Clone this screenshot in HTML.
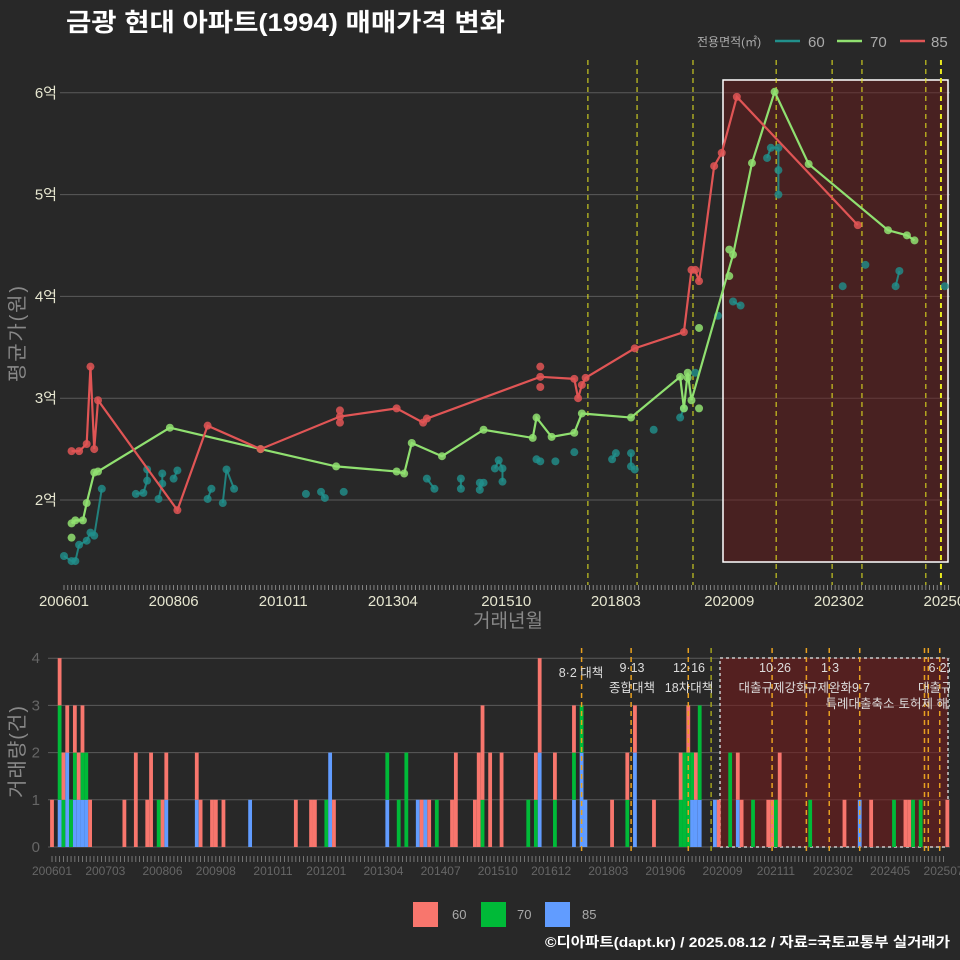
<!DOCTYPE html>
<html><head><meta charset="utf-8">
<style>
html,body{margin:0;padding:0;background:#282828;}
svg{display:block;font-family:"Liberation Sans","Noto Sans CJK KR",sans-serif;}
</style></head>
<body>
<svg id="chart" width="960" height="960" viewBox="0 0 960 960">
<rect x="0" y="0" width="960" height="960" fill="#282828"/>
<defs>
<clipPath id="topclip"><rect x="60" y="60" width="890" height="525"/></clipPath>
<clipPath id="botclip"><rect x="48" y="645" width="902" height="210"/></clipPath>
</defs>
<text x="66" y="31" fill="#ffffff" font-size="25" font-weight="bold" textLength="439" lengthAdjust="spacingAndGlyphs">금광 현대 아파트(1994) 매매가격 변화</text>
<g>
<text x="697" y="46" fill="#aaaaaa" font-size="12">전용면적(㎡)</text>
<line x1="775" y1="41" x2="800" y2="41" stroke="#21908c" stroke-width="2.5"/>
<text x="808" y="47" fill="#aaaaaa" font-size="15">60</text>
<line x1="837" y1="41" x2="862" y2="41" stroke="#90e070" stroke-width="2.5"/>
<text x="870" y="47" fill="#aaaaaa" font-size="15">70</text>
<line x1="900" y1="41" x2="925" y2="41" stroke="#e05555" stroke-width="2.5"/>
<text x="931" y="47" fill="#aaaaaa" font-size="15">85</text>
</g>
<g id="topPanel"></g>
<g id="botPanel"></g>
<text transform="translate(24,334) rotate(-90)" text-anchor="middle" fill="#888888" font-size="20" textLength="96">평균가(원)</text>
<text x="508" y="627" text-anchor="middle" fill="#888888" font-size="19">거래년월</text>
<text transform="translate(24,752) rotate(-90)" text-anchor="middle" fill="#888888" font-size="20" textLength="92">거래량(건)</text>
<g>
<rect x="413" y="902" width="25" height="25" fill="#f8766d"/>
<text x="452" y="919" fill="#aaaaaa" font-size="13">60</text>
<rect x="481" y="902" width="25" height="25" fill="#00ba38"/>
<text x="517" y="919" fill="#aaaaaa" font-size="13">70</text>
<rect x="545" y="902" width="25" height="25" fill="#619cff"/>
<text x="582" y="919" fill="#aaaaaa" font-size="13">85</text>
</g>
<text x="950" y="947" text-anchor="end" fill="#ffffff" font-size="14" font-weight="bold" textLength="405" lengthAdjust="spacingAndGlyphs">©디아파트(dapt.kr) / 2025.08.12 / 자료=국토교통부 실거래가</text>
</svg>
<script>
// ---- data ----
const topTickMonths = [0,29,58,87,117,146,176,205,234];
const topTickLabels = ["200601","200806","201011","201304","201510","201803","202009","202302","202507"];
const botTickMonths = [0,14,29,43,58,72,87,102,117,131,146,161,176,190,205,220,234];
const botTickLabels = ["200601","200703","200806","200908","201011","201201","201304","201407","201510","201612","201803","201906","202009","202111","202302","202405","202507"];
const priceTicks = [2,3,4,5,6];
const priceTickLabels = ["2억","3억","4억","5억","6억"];
const volTicks = [0,1,2,3,4];
const line85 = [[2,2.48],[4,2.48],[6,2.55],[7,3.31],[8,2.50],[9,2.98],[30,1.90],[38,2.73],[52,2.50],[73,2.82],[88,2.90],[95,2.76],[96,2.80],[126,3.21],[135,3.19],[136,3.00],[137,3.13],[138,3.20],[151,3.49],[164,3.65],[166,4.26],[167,4.26],[168,4.15],[172,5.28],[174,5.41],[178,5.96],[210,4.70]];
const extra85 = [[73,2.88],[73,2.76],[126,3.31],[126,3.11]];
const line70 = [[2,1.77],[3,1.80],[5,1.80],[6,1.97],[8,2.27],[9,2.28],[28,2.71],[52,2.50],[72,2.33],[88,2.28],[90,2.26],[92,2.56],[100,2.43],[111,2.69],[124,2.61],[125,2.81],[129,2.62],[135,2.66],[137,2.85],[150,2.81],[163,3.21],[164,2.90],[165,3.25],[166,2.98],[177,4.41],[182,5.31],[188,6.01],[197,5.30],[218,4.65],[223,4.60],[225,4.55]];
const extra70 = [[2,1.63],[168,3.69],[168,2.90],[176,4.46],[176,4.20],[165,3.20]];
const pts60 = [[0,1.45],[2,1.40],[3,1.40],[4,1.56],[6,1.60],[7,1.68],[8,1.65],[10,2.11],[19,2.06],[21,2.07],[22,2.19],[22,2.30],[25,2.01],[26,2.16],[26,2.26],[29,2.21],[30,2.29],[38,2.01],[39,2.11],[42,1.97],[43,2.30],[45,2.11],[64,2.06],[68,2.08],[69,2.02],[74,2.08],[96,2.21],[98,2.11],[105,2.11],[105,2.21],[110,2.17],[110,2.10],[111,2.17],[114,2.31],[115,2.39],[116,2.31],[116,2.18],[125,2.40],[126,2.38],[130,2.38],[135,2.47],[145,2.40],[146,2.46],[150,2.46],[150,2.33],[151,2.30],[156,2.69],[163,2.81],[164,2.90],[167,3.25],[173,3.81],[177,3.95],[179,3.91],[186,5.36],[187,5.46],[189,5.46],[189,5.24],[189,5.00],[206,4.10],[212,4.31],[220,4.10],[221,4.25],[233,4.10]];
const volMonths = [0,2,3,4,5,6,7,8,9,10,19,22,25,26,28,29,30,38,39,42,43,45,52,64,68,69,72,73,74,88,91,93,96,97,98,99,101,105,106,111,112,113,115,118,125,127,128,132,137,139,140,147,151,153,158,165,166,167,168,169,170,174,175,178,180,181,184,188,189,190,191,199,208,212,215,221,224,225,226,228,235];
const vol85 = [0,1,0,2,0,1,1,1,1,0,0,0,0,0,0,0,1,1,0,0,0,0,1,0,0,0,0,2,0,1,0,0,1,0,1,0,0,0,0,0,0,0,0,0,0,0,2,0,1,2,1,0,0,2,0,0,0,0,1,1,1,1,0,0,1,0,0,0,0,0,0,0,0,1,0,0,0,0,0,0,0];
const vol70 = [0,2,1,0,1,1,0,1,1,0,0,0,0,0,1,0,0,0,0,0,0,0,0,0,0,0,1,0,0,1,1,2,0,0,0,0,1,0,0,0,0,1,0,0,1,1,0,1,1,1,0,0,1,0,0,1,2,2,1,0,2,0,0,2,0,0,1,0,0,1,0,1,0,0,0,1,0,0,1,1,0];
const vol60 = [1,1,1,1,0,1,1,1,0,1,1,2,1,2,0,1,1,1,1,1,1,1,0,1,1,1,0,0,1,0,0,0,0,1,0,1,0,1,2,1,2,2,2,2,0,1,2,1,1,0,0,1,1,1,1,1,0,1,0,1,0,0,1,0,1,1,0,1,1,0,2,0,1,0,1,0,1,1,0,0,1];
const policyTop = [138.6,151.6,166.4,188.4,203.2,211.1,228,232];
const policyBot = [139,152,167,173,189,198,204,212,229,230,233];
const policyLabels = [["8·2 대책",581,677],["9·13",632,672],["종합대책",632,692],["12·16",689,672],["18차대책",689,692],["10·26",775,672],["대출규제강화",773,692],["1·3",830,672],["규제완화",829,692],["9·7",861,692],["특례대출축소",860,708],["토허제 해제",929,708],["6·27",941,672],["대출규제",941,692]];

// ---- scales ----
const NS="http://www.w3.org/2000/svg";
const xT = m => 64 + m*3.78;
const yT = v => 500 - (v-2)*101.8;
const xB = m => 52 + m*3.81;
const yB = c => 847 - c*47.2;
function mk(tag, attrs, parent){const e=document.createElementNS(NS,tag);for(const k in attrs)e.setAttribute(k,attrs[k]);parent.appendChild(e);return e;}
const topG=document.getElementById('topPanel'), botG=document.getElementById('botPanel');

priceTicks.forEach((v,i)=>{
  const g=mk('line',{x1:60,x2:950,y1:yT(v),y2:yT(v),stroke:'#5a5a5a','stroke-width':1},topG);
  
  
  const t=mk('text',{x:57,y:yT(v)+5,'text-anchor':'end',fill:'#e6e6d0','font-size':15},topG);
  t.textContent=priceTickLabels[i];
  
  
});
const sh=mk('rect',{x:723,y:80,width:225,height:482,fill:'rgba(110,25,25,0.45)',stroke:'#ffffff','stroke-width':1.5},topG);


policyTop.forEach((m,i)=>{
  const l=mk('line',{x1:xT(m),x2:xT(m),y1:60,y2:585,stroke:'#e8e820','stroke-width':i==policyTop.length-1?2:1,'stroke-dasharray':'5,4'},topG);
  
  
});
for(let m=0;m<=234;m++){
  const t=mk('line',{x1:xT(m),x2:xT(m),y1:585,y2:590,stroke:'#999','stroke-width':0.8},topG);
  
  
}
topTickMonths.forEach((m,i)=>{
  const t=mk('text',{x:xT(m),y:606,'text-anchor':'middle',fill:'#e6e6d0','font-size':15},topG);
  t.textContent=topTickLabels[i];
  
  
});
const plotT=mk('g',{'clip-path':'url(#topclip)'},topG);


let d='';
pts60.forEach((p,i)=>{ if(i>0 && p[0]-pts60[i-1][0]<=2) d+=`M${xT(pts60[i-1][0])},${yT(pts60[i-1][1])}L${xT(p[0])},${yT(p[1])}`; });
const tl=mk('path',{d:d,stroke:'#21908c','stroke-width':2,fill:'none',opacity:0.85},plotT);


pts60.forEach(p=>{const c=mk('circle',{cx:xT(p[0]),cy:yT(p[1]),r:4,fill:'#21908c',opacity:0.8},plotT);
  
  });
function series(line,extra,col,name){
  const p=mk('path',{d:line.map((q,i)=>(i?'L':'M')+xT(q[0])+','+yT(q[1])).join(''),stroke:col,'stroke-width':2.2,fill:'none'},plotT);
  
  
  line.concat(extra).forEach(q=>{const c=mk('circle',{cx:xT(q[0]),cy:yT(q[1]),r:4,fill:col,opacity:0.85},plotT);
    
    });
}
series(line70,extra70,'#90e070','series-70');
series(line85,extra85,'#e05555','series-85');

volTicks.forEach(v=>{
  const g=mk('line',{x1:48,x2:950,y1:yB(v),y2:yB(v),stroke:'#5a5a5a','stroke-width':1},botG);
  
  
  const t=mk('text',{x:40,y:yB(v)+5,'text-anchor':'end',fill:'#666','font-size':15},botG);
  t.textContent=String(v);
  
  
});
const sb=mk('rect',{x:720,y:658,width:228,height:189,fill:'rgba(120,25,25,0.55)',stroke:'#cccccc','stroke-width':1.5,'stroke-dasharray':'3,3'},botG);


const plotB=mk('g',{'clip-path':'url(#botclip)'},botG);


volMonths.forEach((m,i)=>{
  let base=0;
  [[vol85[i],'#619cff','bar-85'],[vol70[i],'#00ba38','bar-70'],[vol60[i],'#f8766d','bar-60']].forEach(s=>{
    if(s[0]>0){
      const r=mk('rect',{x:xB(m)-1.9,y:yB(base+s[0]),width:3.8,height:yB(base)-yB(base+s[0]),fill:s[1]},plotB);
      
      
      base+=s[0];
    }
  });
});
policyBot.forEach(m=>{
  const l=mk('line',{x1:xB(m),x2:xB(m),y1:648,y2:857,stroke:m==173?'#a0a020':'#e8a020','stroke-width':1.5,'stroke-dasharray':'5,4'},plotB);
  
  
});
policyLabels.forEach(a=>{
  const t=mk('text',{x:a[1],y:a[2],'text-anchor':'middle',fill:'#dddddd','font-size':12.5},plotB);
  t.textContent=a[0];
  
  
});
for(let m=0;m<=234;m++){
  const t=mk('line',{x1:xB(m),x2:xB(m),y1:856,y2:862,stroke:'#888','stroke-width':0.8},botG);
  
  
}
botTickMonths.forEach((m,i)=>{
  const t=mk('text',{x:xB(m),y:875,'text-anchor':'middle',fill:'#666','font-size':12},botG);
  t.textContent=botTickLabels[i];
  
  
});
</script>
</body></html>
